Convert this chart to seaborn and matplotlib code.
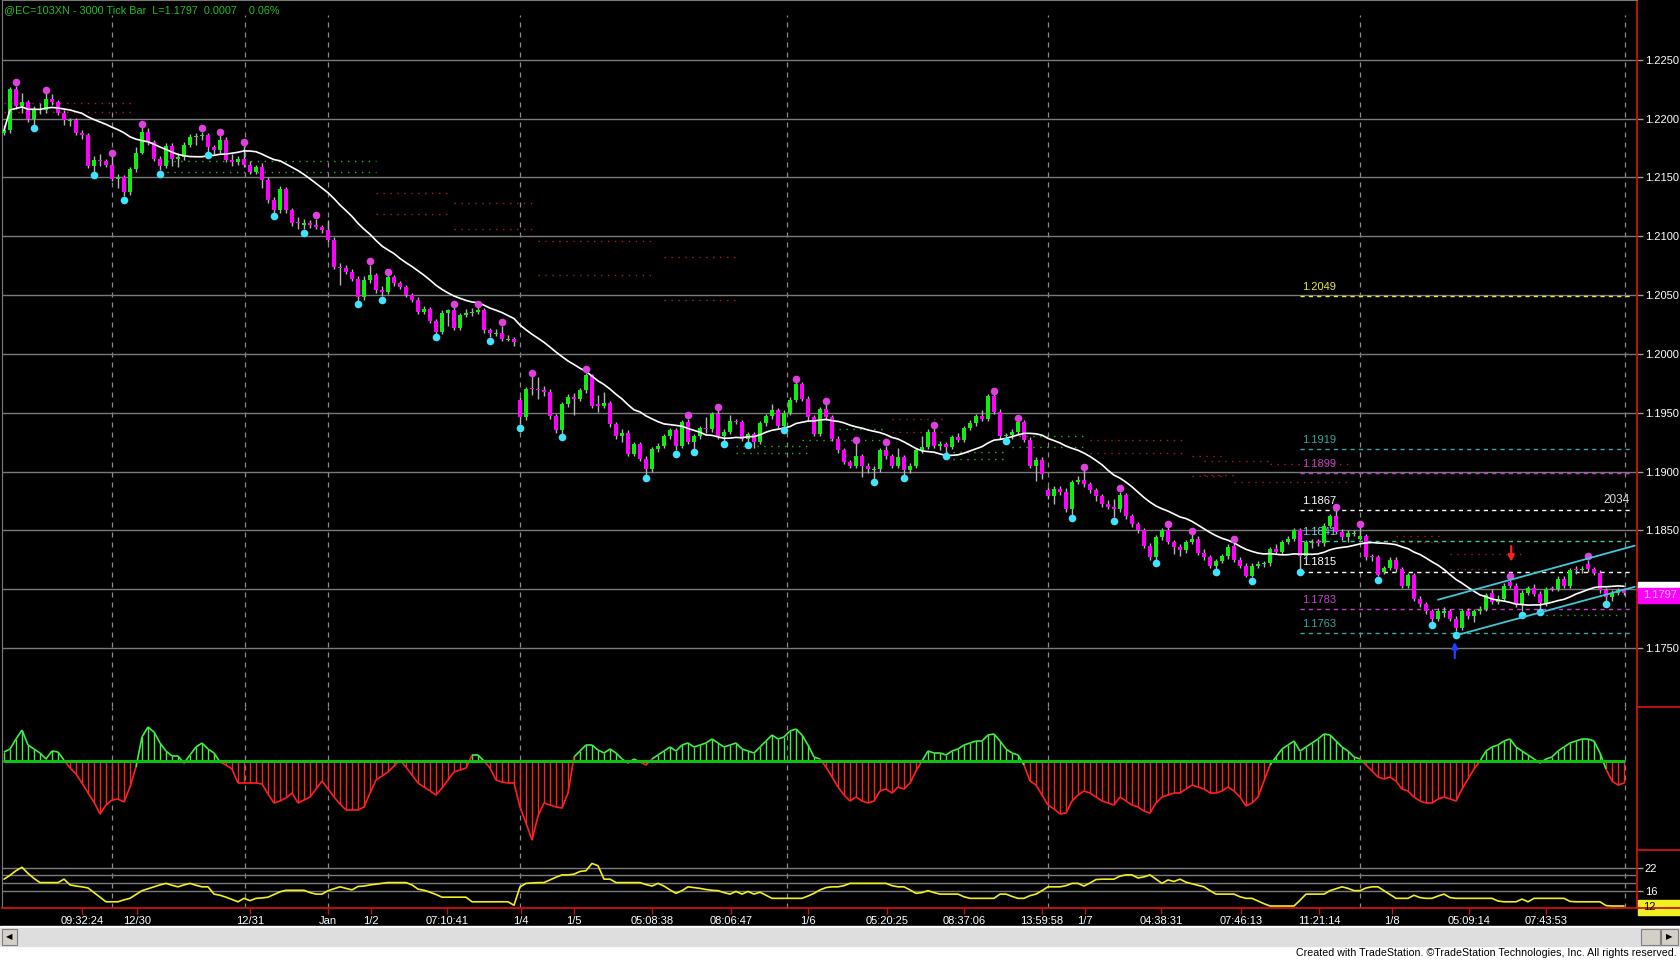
import matplotlib
matplotlib.use("Agg")
import matplotlib.pyplot as plt
from matplotlib.patches import Rectangle
from matplotlib.lines import Line2D
from matplotlib.collections import LineCollection
import numpy as np
import pandas as pd
import seaborn as sns

# ---- price bars, in 1/10000 ----
opens = [
    12188, 12190, 12225, 12211, 12214, 12200, 12208, 12207, 12217, 12214,
    12205, 12198, 12199, 12188, 12186, 12160, 12165, 12164, 12161, 12149,
    12150, 12138, 12157, 12171, 12189, 12180, 12166, 12160, 12177, 12166,
    12167, 12178, 12184, 12185, 12186, 12176, 12173, 12182, 12165, 12163,
    12166, 12161, 12155, 12159, 12148, 12131, 12122, 12140, 12122, 12112,
    12110, 12111, 12110, 12108, 12105, 12097, 12074, 12073, 12070, 12064,
    12048, 12063, 12067, 12054, 12053, 12065, 12060, 12057, 12050, 12046,
    12036, 12038, 12028, 12019, 12035, 12037, 12022, 12033, 12035, 12036,
    12037, 12020, 12017, 12018, 12012, 12013, 11961, 11946, 11971, 11970,
    11969, 11968, 11947, 11935, 11957, 11963, 11962, 11969, 11982, 11957,
    11956, 11958, 11940, 11930, 11933, 11915, 11923, 11911, 11902, 11919,
    11922, 11930, 11935, 11922, 11942, 11925, 11930, 11937, 11936, 11949,
    11930, 11934, 11943, 11942, 11928, 11932, 11925, 11941, 11947, 11952,
    11939, 11950, 11961, 11974, 11962, 11946, 11932, 11953, 11946, 11928,
    11918, 11908, 11905, 11913, 11905, 11901, 11902, 11918, 11913, 11905,
    11912, 11901, 11905, 11918, 11921, 11934, 11922, 11923, 11921, 11929,
    11927, 11937, 11941, 11947, 11945, 11964, 11951, 11930, 11931, 11934,
    11942, 11927, 11905, 11910, 11884, 11879, 11885, 11883, 11868, 11891,
    11893, 11889, 11884, 11879, 11872, 11870, 11868, 11880, 11862, 11855,
    11850, 11837, 11827, 11844, 11850, 11840, 11836, 11833, 11840, 11843,
    11831, 11827, 11820, 11824, 11828, 11837, 11825, 11820, 11811, 11820,
    11821, 11822, 11834, 11832, 11840, 11843, 11850, 11828, 11839, 11841,
    11839, 11854, 11862, 11849, 11844, 11847, 11843, 11845, 11828, 11827,
    11815, 11818, 11825, 11817, 11803, 11812, 11792, 11787, 11781, 11775,
    11780, 11781, 11775, 11767, 11781, 11777, 11781, 11783, 11797, 11789,
    11792, 11806, 11803, 11787, 11797, 11801, 11796, 11788, 11801, 11800,
    11809, 11803, 11817, 11816, 11821, 11817, 11814, 11799, 11793, 11797,
    11799,
]
closes = [
    12190, 12225, 12211, 12214, 12200, 12208, 12207, 12217, 12214, 12205,
    12199, 12199, 12188, 12186, 12160, 12165, 12164, 12161, 12149, 12150,
    12138, 12157, 12171, 12189, 12180, 12166, 12160, 12177, 12166, 12167,
    12178, 12184, 12185, 12186, 12176, 12173, 12182, 12165, 12163, 12166,
    12161, 12155, 12159, 12148, 12131, 12122, 12140, 12122, 12111, 12111,
    12111, 12110, 12108, 12105, 12097, 12074, 12073, 12070, 12064, 12048,
    12063, 12067, 12054, 12053, 12065, 12060, 12057, 12050, 12046, 12036,
    12038, 12028, 12019, 12035, 12037, 12022, 12033, 12035, 12036, 12037,
    12020, 12018, 12018, 12013, 12013, 12010, 11946, 11970, 11970, 11969,
    11968, 11947, 11935, 11957, 11963, 11962, 11969, 11982, 11956, 11956,
    11958, 11940, 11930, 11933, 11915, 11923, 11911, 11902, 11919, 11922,
    11930, 11935, 11922, 11942, 11925, 11930, 11937, 11936, 11949, 11930,
    11934, 11943, 11942, 11928, 11932, 11925, 11941, 11947, 11952, 11939,
    11950, 11961, 11974, 11962, 11946, 11932, 11953, 11946, 11928, 11918,
    11908, 11905, 11913, 11905, 11902, 11902, 11918, 11913, 11905, 11912,
    11901, 11905, 11918, 11921, 11934, 11922, 11923, 11921, 11929, 11927,
    11937, 11941, 11947, 11945, 11964, 11951, 11930, 11931, 11934, 11942,
    11927, 11905, 11910, 11898, 11879, 11885, 11883, 11868, 11891, 11893,
    11889, 11884, 11879, 11872, 11870, 11868, 11880, 11862, 11855, 11850,
    11837, 11827, 11844, 11850, 11840, 11836, 11833, 11840, 11843, 11831,
    11827, 11820, 11824, 11828, 11836, 11825, 11820, 11811, 11820, 11821,
    11822, 11834, 11832, 11840, 11843, 11850, 11828, 11840, 11840, 11839,
    11854, 11862, 11849, 11844, 11848, 11848, 11845, 11827, 11827, 11812,
    11818, 11825, 11817, 11803, 11812, 11792, 11787, 11781, 11775, 11781,
    11781, 11775, 11767, 11781, 11777, 11781, 11783, 11795, 11789, 11792,
    11803, 11803, 11787, 11797, 11801, 11796, 11788, 11800, 11800, 11809,
    11803, 11816, 11816, 11817, 11817, 11814, 11799, 11793, 11797, 11799,
    11797,
]
highs = [
    12195, 12227, 12228, 12222, 12216, 12211, 12213, 12222, 12221, 12216,
    12207, 12201, 12201, 12190, 12188, 12168, 12170, 12166, 12168, 12153,
    12152, 12159, 12176, 12193, 12192, 12182, 12168, 12179, 12179, 12171,
    12180, 12187, 12188, 12189, 12188, 12178, 12186, 12184, 12170, 12168,
    12177, 12164, 12161, 12162, 12150, 12133, 12143, 12142, 12124, 12116,
    12115, 12114, 12115, 12110, 12114, 12099, 12077, 12076, 12072, 12066,
    12066, 12076, 12069, 12058, 12067, 12067, 12062, 12059, 12052, 12048,
    12041, 12040, 12030, 12037, 12038, 12040, 12035, 12038, 12039, 12040,
    12039, 12022, 12021, 12024, 12016, 12014, 11963, 11972, 11981, 11980,
    11973, 11970, 11949, 11959, 11966, 11967, 11971, 11984, 11983, 11965,
    11968, 11960, 11942, 11936, 11935, 11925, 11925, 11913, 11921, 11924,
    11932, 11937, 11937, 11944, 11945, 11932, 11939, 11946, 11951, 11952,
    11936, 11948, 11945, 11944, 11934, 11934, 11943, 11949, 11957, 11954,
    11952, 11963, 11976, 11976, 11964, 11948, 11955, 11957, 11948, 11930,
    11920, 11910, 11924, 11915, 11907, 11905, 11920, 11922, 11915, 11920,
    11914, 11907, 11920, 11930, 11936, 11937, 11926, 11925, 11931, 11933,
    11939, 11944, 11949, 11952, 11966, 11966, 11953, 11933, 11936, 11943,
    11944, 11929, 11912, 11912, 11887, 11888, 11888, 11886, 11893, 11896,
    11901, 11891, 11886, 11881, 11876, 11877, 11883, 11882, 11864, 11857,
    11852, 11839, 11846, 11852, 11853, 11842, 11838, 11842, 11847, 11845,
    11834, 11829, 11826, 11830, 11838, 11840, 11827, 11822, 11822, 11824,
    11824, 11836, 11838, 11842, 11845, 11852, 11852, 11842, 11843, 11843,
    11856, 11864, 11867, 11851, 11850, 11850, 11853, 11847, 11830, 11829,
    11820, 11827, 11827, 11819, 11814, 11814, 11794, 11789, 11783, 11784,
    11785, 11783, 11777, 11783, 11784, 11783, 11786, 11797, 11800, 11795,
    11805, 11808, 11805, 11799, 11803, 11804, 11798, 11802, 11803, 11811,
    11811, 11818, 11820, 11820, 11825, 11819, 11816, 11801, 11799, 11801,
    11801,
]
lows = [
    12186, 12188, 12208, 12205, 12197, 12195, 12204, 12205, 12212, 12203,
    12195, 12194, 12186, 12183, 12158, 12155, 12160, 12159, 12147, 12141,
    12134, 12135, 12155, 12170, 12178, 12164, 12156, 12158, 12160, 12159,
    12165, 12176, 12178, 12182, 12172, 12170, 12171, 12163, 12160, 12161,
    12159, 12153, 12153, 12141, 12128, 12120, 12120, 12120, 12109, 12106,
    12106, 12107, 12106, 12103, 12095, 12072, 12059, 12068, 12062, 12045,
    12046, 12060, 12052, 12049, 12051, 12058, 12055, 12048, 12044, 12034,
    12034, 12026, 12017, 12017, 12024, 12020, 12020, 12031, 12032, 12034,
    12018, 12014, 12015, 12011, 12011, 12007, 11940, 11944, 11965, 11962,
    11964, 11945, 11933, 11932, 11955, 11948, 11960, 11967, 11954, 11951,
    11954, 11938, 11928, 11925, 11913, 11913, 11909, 11897, 11900, 11917,
    11920, 11928, 11918, 11920, 11923, 11919, 11928, 11933, 11934, 11928,
    11926, 11932, 11940, 11926, 11925, 11920, 11923, 11939, 11945, 11937,
    11938, 11948, 11959, 11960, 11944, 11930, 11930, 11944, 11926, 11916,
    11906, 11903, 11903, 11895, 11899, 11894, 11900, 11911, 11903, 11903,
    11897, 11899, 11903, 11916, 11919, 11920, 11918, 11916, 11919, 11925,
    11925, 11935, 11939, 11943, 11943, 11949, 11928, 11929, 11928, 11932,
    11925, 11903, 11892, 11894, 11877, 11872, 11880, 11866, 11863, 11889,
    11887, 11882, 11875, 11870, 11868, 11861, 11866, 11860, 11853, 11848,
    11835, 11825, 11825, 11842, 11838, 11830, 11828, 11831, 11838, 11829,
    11825, 11818, 11817, 11822, 11826, 11823, 11818, 11810, 11810, 11818,
    11819, 11820, 11830, 11830, 11838, 11841, 11817, 11826, 11835, 11837,
    11837, 11852, 11847, 11842, 11840, 11845, 11842, 11825, 11824, 11811,
    11813, 11816, 11815, 11801, 11801, 11790, 11785, 11779, 11772, 11773,
    11776, 11773, 11764, 11765, 11775, 11772, 11779, 11781, 11787, 11787,
    11790, 11801, 11785, 11781, 11795, 11794, 11783, 11786, 11798, 11798,
    11801, 11801, 11813, 11814, 11815, 11812, 11797, 11790, 11790, 11795,
    11795,
]
pivot_high_idx = [2, 7, 18, 23, 33, 36, 40, 52, 61, 64, 75, 79, 83, 88, 97, 114, 119,
                  132, 137, 142, 147, 155, 165, 169, 180, 186, 194, 198, 205, 222,
                  226, 251, 264]
pivot_low_idx = [5, 15, 20, 26, 34, 45, 50, 59, 63, 72, 81, 86, 93, 107, 112, 115, 120,
                 124, 130, 145, 150, 157, 167, 178, 185, 192, 202, 208, 216, 229, 238,
                 242, 253, 256, 267]

# ---- oscillator (histogram) ----
osc_vals = [
    9, 12, 22, 31, 16, 12, 8, 2, 10, 9,
    1, -7, -13, -22, -32, -41, -53, -44, -39, -38,
    -41, -26, -6, 24, 34, 29, 18, 10, 5, 5,
    -2, 6, 14, 18, 12, 8, -1, -4, -8, -22,
    -22, -22, -22, -23, -33, -42, -40, -37, -32, -42,
    -39, -36, -28, -20, -28, -36, -43, -49, -49, -49,
    -46, -32, -19, -15, -11, -5, 1, -6, -14, -22,
    -26, -30, -34, -27, -19, -11, -9, -7, 6, 6,
    0, -7, -19, -21, -22, -22, -46, -62, -79, -55,
    -42, -44, -46, -47, -32, 4, 10, 16, 16, 11,
    8, 12, 8, 2, -2, 2, -1, -4, 2, 6,
    10, 14, 10, 16, 18, 14, 16, 18, 22, 18,
    14, 16, 18, 12, 10, 8, 14, 20, 26, 22,
    24, 30, 32, 26, 16, 4, 2, -6, -16, -26,
    -34, -40, -36, -40, -42, -40, -30, -28, -32, -26,
    -28, -22, -10, 0, 10, 8, 8, 6, 10, 12,
    16, 18, 20, 20, 26, 27, 20, 12, 8, 6,
    -4, -20, -24, -34, -44, -48, -53, -52, -40, -34,
    -30, -32, -36, -40, -42, -44, -36, -40, -44, -46,
    -50, -52, -42, -36, -34, -32, -32, -28, -24, -26,
    -28, -32, -32, -30, -26, -30, -36, -45, -42, -36,
    -20, -4, 4, 12, 16, 20, 10, 14, 18, 22,
    27, 26, 20, 14, 10, 4, 2, -4, -10, -16,
    -18, -16, -20, -28, -30, -36, -40, -42, -42, -38,
    -36, -38, -40, -28, -18, -8, 0, 10, 14, 16,
    20, 22, 14, 10, 6, 2, -2, 2, 4, 10,
    14, 18, 20, 22, 22, 20, 8, -8, -20, -24,
    -22,
]

# ---- lower yellow indicator ----
adx_vals = [
    19.0, 20.0, 21.2, 22.1, 20.5, 19.2, 18.1, 18.1, 18.1, 18.1,
    19.0, 17.5, 17.2, 17.0, 16.7, 15.5, 14.3, 13.1, 13.1, 13.1,
    13.6, 14.0, 15.0, 16.0, 16.5, 17.0, 17.5, 17.9, 17.4, 17.0,
    17.5, 17.9, 17.4, 17.0, 17.0, 15.1, 14.8, 14.3, 13.7, 13.1,
    14.0, 13.4, 14.0, 14.1, 14.3, 15.0, 15.7, 16.1, 16.1, 16.1,
    16.1, 15.5, 15.1, 15.1, 16.0, 16.5, 17.0, 16.6, 16.2, 17.1,
    17.2, 17.5, 17.7, 17.9, 18.1, 18.1, 18.1, 18.1, 17.5, 16.4,
    16.1, 15.6, 15.0, 14.3, 14.3, 14.3, 14.3, 14.3, 13.1, 13.1,
    13.1, 13.1, 13.1, 13.1, 13.1, 12.2, 17.0, 17.9, 18.0, 18.1,
    18.1, 18.8, 19.5, 20.1, 20.1, 20.3, 21.0, 21.2, 23.1, 22.5,
    19.0, 19.0, 18.1, 18.1, 18.1, 18.1, 18.1, 17.6, 17.2, 17.9,
    17.2, 16.2, 15.3, 16.0, 17.0, 16.8, 16.6, 16.3, 16.1, 16.0,
    15.5, 15.1, 15.8, 15.1, 15.8, 15.1, 15.6, 14.8, 14.0, 14.0,
    14.0, 14.0, 14.0, 14.0, 14.6, 15.3, 16.2, 16.8, 17.0, 17.0,
    17.3, 17.9, 17.9, 17.9, 17.9, 17.9, 17.9, 17.9, 17.3, 17.0,
    17.0, 16.2, 15.3, 15.5, 16.0, 15.5, 15.1, 15.1, 15.1, 15.1,
    14.4, 14.0, 14.0, 14.0, 14.0, 14.0, 15.1, 15.1, 14.5, 14.0,
    14.0, 14.7, 15.1, 16.0, 17.0, 17.0, 17.0, 17.3, 17.9, 17.9,
    17.2, 18.0, 18.9, 19.0, 19.0, 19.0, 19.8, 20.1, 20.1, 19.3,
    19.6, 20.1, 19.0, 17.9, 18.8, 18.4, 19.0, 18.2, 17.8, 17.4,
    17.0, 16.0, 15.1, 15.1, 15.1, 15.1, 14.4, 14.0, 14.0, 13.3,
    12.6, 12.0, 12.0, 12.0, 12.0, 12.0, 13.5, 15.1, 15.1, 15.1,
    15.1, 16.0, 16.5, 17.0, 16.6, 16.0, 16.0, 16.7, 17.0, 17.0,
    16.0, 15.0, 14.0, 14.0, 14.0, 14.8, 14.2, 14.0, 14.0, 14.6,
    15.1, 14.2, 14.0, 14.0, 14.0, 14.0, 14.0, 14.0, 14.0, 13.3,
    13.1, 13.1, 13.1, 13.8, 13.1, 14.0, 14.0, 14.0, 14.0, 14.0,
    14.0, 13.2, 13.1, 13.1, 13.1, 13.1, 13.1, 12.1, 12.0, 12.0,
    12.0,
]
adx_grid = [16, 18, 20, 22]

# ---- axes labels ----
price_ticks = [1.1750, 1.1800, 1.1850, 1.1900, 1.1950, 1.2000, 1.2050, 1.2100,
               1.2150, 1.2200, 1.2250]
x_tick_pos = [13, 22.2, 41, 54, 61.2, 73.8, 86.2, 95, 108, 121.2, 134, 147.2, 160,
              173, 180.2, 192.8, 206.2, 219.2, 231.3, 244.2, 257]
x_tick_labels = ["09:32:24", "12/30", "12/31", "Jan", "1/2", "07:10:41", "1/4", "1/5",
                 "05:08:38", "08:06:47", "1/6", "05:20:25", "08:37:06", "13:59:58",
                 "1/7", "04:38:31", "07:46:13", "11:21:14", "1/8", "05:09:14",
                 "07:43:53"]
session_lines = [18, 40.2, 54, 86, 130.5, 174, 226, 270.2]

# ---- drawn levels ----
level_prices = [1.2049, 1.1919, 1.1899, 1.1867, 1.1841, 1.1815, 1.1783, 1.1763]
level_colors = ["#e8e840", "#3aa8a0", "#c840c8", "#ffffff", "#40c8a0", "#ffffff",
                "#c840c8", "#3aa8a0"]
level_text_colors = ["#e8e840", "#3aa8a0", "#c840c8", "#ffffff", "#70d0f0", "#ffffff",
                     "#c840c8", "#3aa8a0"]

# dotted support / resistance stubs: price, first bar, last bar
dot_red_prices = [1.2213, 1.2206, 1.2137, 1.2119, 1.2128, 1.2106, 1.2096, 1.2067,
                  1.2082, 1.2046, 1.1945, 1.1934, 1.1927, 1.1916, 1.1913, 1.1896,
                  1.1909, 1.1897, 1.1891, 1.1906, 1.1845, 1.1840, 1.1830, 1.1817]
dot_red_start = [0, 0, 62, 62, 75, 75, 89, 89, 110, 110, 148, 148, 181, 181, 198, 198,
                 200, 200, 205, 211, 232, 232, 241, 241]
dot_red_end = [22, 22, 74, 74, 88, 88, 108, 108, 122, 122, 157, 157, 197, 197, 203, 203,
               211, 205, 224, 224, 240, 240, 253, 247]
dot_green_prices = [1.2164, 1.2155, 1.1922, 1.1916, 1.1936, 1.1927, 1.1917, 1.1911,
                    1.1930, 1.1921, 1.1778]
dot_green_start = [26, 26, 122, 122, 138, 133, 157, 157, 168, 168, 257]
dot_green_end = [62, 62, 134, 134, 147, 147, 167, 167, 180, 180, 269]

# trend channel: (bar, price) end points
chan_up_x = [239, 271.8]
chan_up_y = [1.1791, 1.1837]
chan_dn_x = [242.2, 271.8]
chan_dn_y = [1.1761, 1.1802]

W, H = 1680, 960
BG = "black"
GRID = "#7a7a7a"
AXRED = "#d01010"
GREEN = "#10ee10"
MAGENTA = "#ff00ff"
FS = 8

sns.set_style("dark", {"axes.facecolor": BG, "figure.facecolor": BG})
plt.rcParams["font.family"] = ["Liberation Sans", "DejaVu Sans"]

o = np.array(opens) / 10000
c = np.array(closes) / 10000
h = np.array(highs) / 10000
lo = np.array(lows) / 10000
n = len(c)
idx = np.arange(n)
ma = pd.Series(c).rolling(20, min_periods=1).mean()


def fx(x):
    return x / W


def fy(y):
    return 1 - y / H


fig = plt.figure(figsize=(W / 100, H / 100), dpi=100, facecolor=BG)
left, width = fx(2), (1637 - 2) / W
ax_p = fig.add_axes([left, fy(707), width, 707 / H])
ax_o = fig.add_axes([left, fy(850), width, 143 / H])
ax_a = fig.add_axes([left, fy(908), width, 58 / H])
xlim = (-1 / 3, (1637 - 4) / 6)

for ax in (ax_p, ax_o, ax_a):
    ax.set_facecolor(BG)
    ax.set_xlim(*xlim)
    ax.grid(False)
    for s in ax.spines.values():
        s.set_visible(False)
    ax.spines["left"].set_visible(True)
    ax.spines["left"].set_color(GRID)
    ax.spines["right"].set_visible(True)
    ax.spines["right"].set_color(AXRED)
    ax.spines["right"].set_linewidth(1.3)
    ax.tick_params(axis="x", bottom=False, labelbottom=False)
    for xv in session_lines:
        ax.axvline(xv, color="#8a8a8a", lw=0.9, ls=(0, (4, 4)), zorder=1,
                   ymax=(1 - 15 / 707) if ax is ax_p else 1)

# ---------------- price panel ----------------
ax_p.spines["top"].set_visible(True)
ax_p.spines["top"].set_color(GRID)
ax_p.set_ylim(1.16998, 1.23009)
for p in price_ticks:
    ax_p.axhline(p, color=GRID, lw=1, zorder=1)

for p, a, b in zip(dot_red_prices, dot_red_start, dot_red_end):
    ax_p.plot([a, b], [p, p], color="#b02020", lw=1, ls=(0, (1, 4)), zorder=2)
for p, a, b in zip(dot_green_prices, dot_green_start, dot_green_end):
    ax_p.plot([a, b], [p, p], color="#30b030", lw=1, ls=(0, (1, 4)), zorder=2)

lx0, lx1 = (1300 - 4) / 6, (1633 - 4) / 6
for p, col, tcol in zip(level_prices, level_colors, level_text_colors):
    ax_p.plot([lx0, lx1], [p, p], color=col, lw=1, ls=(0, (3, 3)), zorder=2)
    ax_p.text(lx0 + 0.4, p + 0.00035, f"{p:.4f}", color=tcol, fontsize=FS,
              ha="left", va="bottom", zorder=2)
ax_p.text((1630 - 4) / 6, 1.1867 + 0.00035, "2034", color="#e0e0e0", fontsize=8.5,
          ha="right", va="bottom", zorder=2)

# candles
up = c > o
col = np.where(up, GREEN, MAGENTA)
ax_p.vlines(idx, lo, h, color="#b4b4b4", lw=1, zorder=3)
body_lo = np.minimum(o, c)
body_h = np.maximum(np.abs(c - o), 0.00009)
ax_p.bar(idx, body_h, bottom=body_lo, width=0.66, color=col, linewidth=0, zorder=4)

sns.lineplot(x=idx, y=ma, ax=ax_p, color="white", lw=1.2, zorder=5)

ph = np.array(pivot_high_idx)
pl = np.array(pivot_low_idx)
sns.scatterplot(x=ph, y=h[ph] + 0.00028, ax=ax_p, color="#e040e0", s=30,
                linewidth=0, zorder=6)
sns.scatterplot(x=pl, y=lo[pl] - 0.00028, ax=ax_p, color="#40e4ff", s=30,
                linewidth=0, zorder=6)

ax_p.plot(chan_up_x, chan_up_y, color="#40c8d8", lw=1.3, zorder=6)
ax_p.plot(chan_dn_x, chan_dn_y, color="#40c8d8", lw=1.3, zorder=6)

ax_p.annotate("", xy=(251.2, 1.1821), xytext=(251.2, 1.1839),
              arrowprops=dict(arrowstyle="-|>", color="#ff2020", lw=1.6,
                              mutation_scale=9), zorder=7)
ax_p.annotate("", xy=(241.8, 1.17575), xytext=(241.8, 1.1739),
              arrowprops=dict(arrowstyle="-|>", color="#2040ff", lw=1.6,
                              mutation_scale=9), zorder=7)

ax_p.set_xlabel("")
ax_p.set_ylabel("")
ax_p.yaxis.tick_right()
ax_p.set_yticks(price_ticks)
ax_p.set_yticklabels(["1.1750", "", "1.1850", "1.1900", "1.1950", "1.2000", "1.2050",
                      "1.2100", "1.2150", "1.2200", "1.2250"])
ax_p.tick_params(axis="y", right=True, left=False, length=4, width=1, color="#a0a0a0",
                 labelcolor="white", labelsize=FS, pad=1.5)

# ---------------- oscillator panel ----------------
ov = np.array(osc_vals, dtype=float)
ax_o.set_ylim(-89, 54)
ax_o.vlines(idx, 0, ov, colors=np.where(ov >= 0, "#40f040", "#ff2020"), lw=1, zorder=3)
segs = [[(i, ov[i]), (i + 1, ov[i + 1])] for i in range(n - 1)]
seg_col = ["#40f040" if (ov[i] + ov[i + 1]) >= 0 else "#ff2020" for i in range(n - 1)]
ax_o.add_collection(LineCollection(segs, colors=seg_col, lw=1.2, zorder=4))
ax_o.plot([0, n - 1], [0, 0], color="#10c010", lw=2.2, zorder=5)
ax_o.set_yticks([])

# ---------------- lower yellow panel ----------------
ax_a.set_ylim(11.48, 26.6)
for g in adx_grid:
    ax_a.axhline(g, color=GRID, lw=1, zorder=1)
sns.lineplot(x=idx, y=adx_vals, ax=ax_a, color="#f0f020", lw=1.2, zorder=4)
ax_a.spines["bottom"].set_visible(True)
ax_a.spines["bottom"].set_color(AXRED)
ax_a.spines["bottom"].set_linewidth(1.3)
ax_a.yaxis.tick_right()
ax_a.set_yticks([16, 22])
ax_a.set_yticklabels(["16", "22"])
ax_a.tick_params(axis="y", right=True, left=False, length=4, width=1, color="#a0a0a0",
                 labelcolor="white", labelsize=FS, pad=1.5)
ax_a.set_xticks(x_tick_pos)
ax_a.set_xticklabels(x_tick_labels)
ax_a.tick_params(axis="x", bottom=True, labelbottom=True, length=4, width=1,
                 color=AXRED, labelcolor="white", labelsize=FS, pad=2)
ax_a.set_xlabel("")
ax_a.set_ylabel("")

# ---------------- frame pieces on the right ----------------
for yy in (707, 850, 908):
    fig.add_artist(Line2D([fx(1637), fx(1680)], [fy(yy), fy(yy)], color=AXRED, lw=1.3))
fig.add_artist(Rectangle((fx(1638), fy(915)), 42 / W, 15 / H, color="#f0f020",
                         transform=fig.transFigure))
fig.text(fx(1643), fy(907.5), "12", color="black", fontsize=FS, va="center", ha="left")

fig.add_artist(Rectangle((fx(1638), fy(590)), 42 / W, 8 / H, color="white",
                         transform=fig.transFigure))
fig.add_artist(Rectangle((fx(1638), fy(603)), 42 / W, 15 / H, color=MAGENTA,
                         transform=fig.transFigure))
fig.text(fx(1643), fy(595.5), "1.1797", color="#ffd0ff", fontsize=FS, va="center",
         ha="left")

fig.text(fx(4), fy(10), "@EC=103XN - 3000 Tick Bar  L=1.1797  0.0007    0.06%",
         color="#20c020", fontsize=7.8, va="center", ha="left")

# ---------------- bottom bar ----------------
fig.add_artist(Rectangle((0, 0), 1, 34 / H, color="white", transform=fig.transFigure))
fig.add_artist(Rectangle((0, fy(946)), 1, 18 / H, color="#dedede",
                         transform=fig.transFigure))
fig.add_artist(Rectangle((fx(2), fy(945)), 15 / W, 16 / H, facecolor="#d4d0c8",
                         edgecolor="#808080", lw=0.8, transform=fig.transFigure))
fig.add_artist(Rectangle((fx(1641), fy(945)), 19 / W, 16 / H, facecolor="#d4d0c8",
                         edgecolor="#808080", lw=0.8, transform=fig.transFigure))
fig.add_artist(Rectangle((fx(1661), fy(945)), 17 / W, 16 / H, facecolor="#d4d0c8",
                         edgecolor="#808080", lw=0.8, transform=fig.transFigure))
fig.text(fx(9.5), fy(937), "\u25c0", color="black", fontsize=6, ha="center",
         va="center", family="DejaVu Sans")
fig.text(fx(1669.5), fy(937), "\u25b6", color="black", fontsize=6, ha="center",
         va="center", family="DejaVu Sans")
fig.text(fx(1677), fy(953), "Created with TradeStation. \u00a9TradeStation Technologies, "
         "Inc. All rights reserved.", color="black", fontsize=7.7, ha="right",
         va="center")

fig.savefig("out.png", dpi=100, facecolor=BG)
